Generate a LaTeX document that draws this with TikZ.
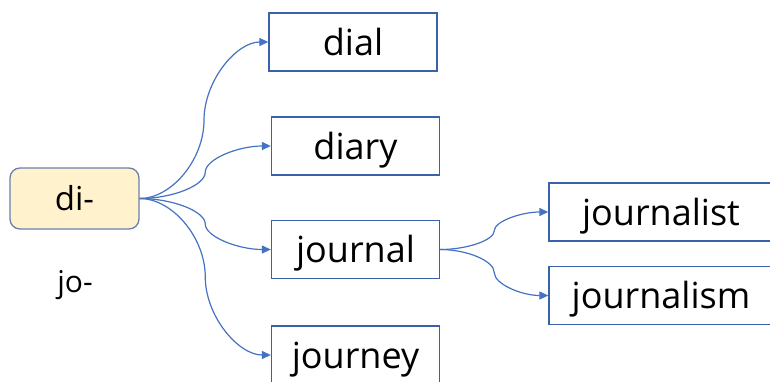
\documentclass[tikz,border=0pt]{standalone}
\usepackage{fontspec}
\setmainfont{Open Sans}
\usetikzlibrary{arrows.meta,calc}
\definecolor{lnblue}{HTML}{4472C4}
\definecolor{bxblue}{HTML}{3A62AA}
\definecolor{rootborder}{HTML}{6A80A8}
\definecolor{rootfill}{HTML}{FFF2CC}
\tikzset{
  wbox/.style={draw=bxblue, line width=1.3pt, fill=white, minimum width=168pt, minimum height=58pt,
    inner sep=0pt, text height=26pt, text depth=0pt, font=\fontsize{36}{40}\selectfont},
  rootbox/.style={draw=rootborder, line width=1.3pt, fill=rootfill, rounded corners=10pt,
    minimum width=129pt, minimum height=61pt, inner sep=0pt, text height=24pt, text depth=0pt,
    font=\fontsize{33}{38}\selectfont},
  conn/.style={draw=lnblue, line width=1.2pt, -{Triangle[length=9pt,width=8pt]},
    to path={let \p1=(\tikztostart), \p2=(\tikztotarget) in
      .. controls ({0.75*\x1+0.25*\x2},\y1) and ({0.5*\x1+0.5*\x2},{0.75*\y1+0.25*\y2})
      .. ({0.5*\x1+0.5*\x2},{0.5*\y1+0.5*\y2})
      .. controls ({0.5*\x1+0.5*\x2},{0.25*\y1+0.75*\y2}) and ({0.25*\x1+0.75*\x2},\y2)
      .. (\tikztotarget)}}
}
\begin{document}
\begin{tikzpicture}[x=1pt,y=-1pt]
\useasboundingbox (0,0) rectangle (770,381);
\clip (0,0) rectangle (770,381);
\fill[white] (0,0) rectangle (770,381);

\node[rootbox] (di) at (74.5,198.5) {di-};
\node[anchor=base, font=\fontsize{30}{34}\selectfont] (jo) at (75,292) {jo-};

\node[wbox] (dial) at (353,42) {dial};
\node[wbox] (diary) at (355.5,146) {diary};
\node[wbox] (journal) at (355.5,249.5) {journal};
\node[wbox] (journey) at (355.5,355) {journey};
\node[wbox, minimum width=224pt] (journalist) at (661,212) {journalist};
\node[wbox, minimum width=224pt] (journalism) at (661,295.5) {journalism};

\draw[conn] (di.east) to (dial.west);
\draw[conn] (di.east) to (diary.west);
\draw[conn] (di.east) to (journal.west);
\draw[conn] (di.east) to (journey.west);
\draw[conn] (journal.east) to (journalist.west);
\draw[conn] (journal.east) to (journalism.west);
\end{tikzpicture}
\end{document}
